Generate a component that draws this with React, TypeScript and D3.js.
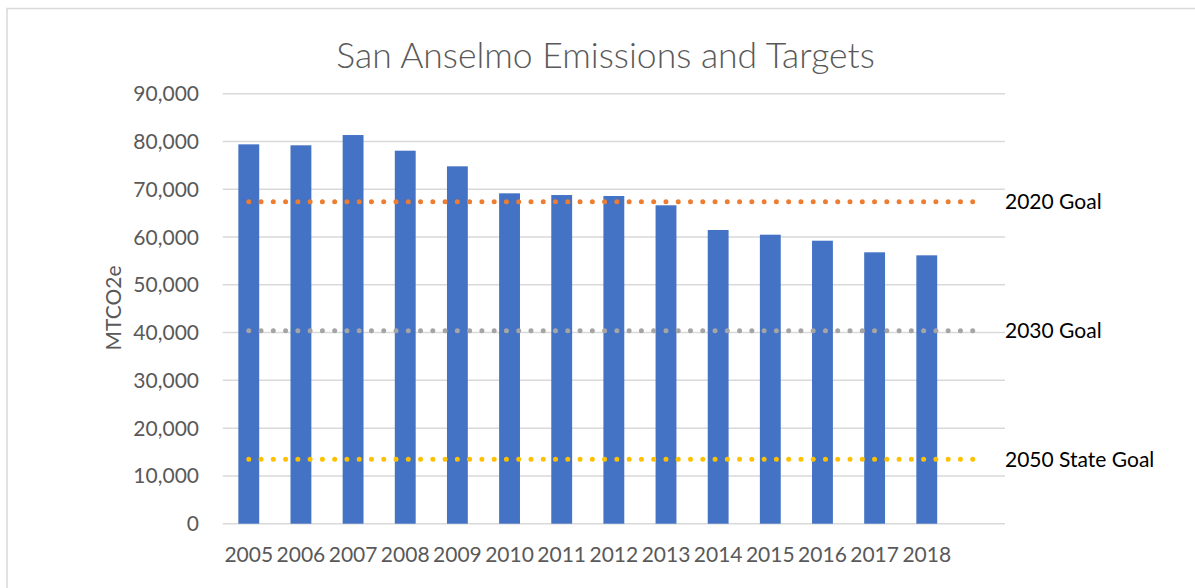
import React from "react";
import * as d3 from "d3";

const categories = ["2005","2006","2007","2008","2009","2010","2011","2012","2013","2014","2015","2016","2017","2018",""];
const emissions = [79400, 79200, 81350, 78070, 74800, 69150, 68790, 68590, 66640, 61470, 60490, 59230, 56800, 56170];
const goalLabels = ["2020 Goal", "2030 Goal", "2050 State Goal"];
const goalValues = [67390, 40400, 13480];
const goalColors = ["#ED7D31", "#A5A5A5", "#FFC000"];
const yTicks = [0, 10000, 20000, 30000, 40000, 50000, 60000, 70000, 80000, 90000];
const title = "San Anselmo Emissions and Targets";
const yTitle = "MTCO2e";

const W = 1195, H = 588;
const left = 222.7, right = 1005, top = 93.7, bottom = 523.7;
const FONT = "Lato, 'Open Sans', sans-serif";

export default function App() {
  const x = d3.scaleBand<string>().domain(categories).range([left, right]).paddingInner(0.6).paddingOuter(0.3);
  const y = d3.scaleLinear().domain([0, 90000]).range([bottom, top]);
  const center = (c: string) => (x(c) as number) + x.bandwidth() / 2;
  const fmt = d3.format(",");
  const x1 = center(categories[0]);
  const x2 = center(categories[categories.length - 1]);
  return (
    <svg width={W} height={H} style={{ position: "absolute", left: 0, top: 0, background: "#fff" }} fontFamily={FONT}>
      <rect x={0} y={0} width={W} height={H} fill="#fff" />
      <rect x={7} y={8.5} width={W + 20} height={H + 20} fill="none" stroke="#d9d9d9" strokeWidth={1.5} />
      <text x={605.5} y={68} textAnchor="middle" fontSize={35.5} fontWeight={300} fill="#595959">{title}</text>
      {yTicks.map((t) => (
        <g key={t}>
          <line x1={left} x2={right} y1={y(t)} y2={y(t)} stroke="#d9d9d9" strokeWidth={1.5} />
          <text x={199} y={y(t)} dy="0.36em" textAnchor="end" fontSize={21} fill="#595959">{fmt(t)}</text>
        </g>
      ))}
      <text transform={`translate(120.5,308) rotate(-90)`} textAnchor="middle" fontSize={21} fill="#595959">{yTitle}</text>
      {emissions.map((v, i) => (
        <rect key={categories[i]} x={x(categories[i])} y={y(v)} width={x.bandwidth()} height={y(0) - y(v)} fill="#4472C4" />
      ))}
      {categories.map((c) => c ? (
        <text key={c} x={center(c)} y={562} textAnchor="middle" fontSize={21} fill="#595959">{c}</text>
      ) : null)}
      {goalValues.map((g, i) => (
        <g key={goalLabels[i]}>
          <line x1={x1} x2={x2} y1={y(g)} y2={y(g)} stroke={goalColors[i]} strokeWidth={5} strokeLinecap="round" strokeDasharray={`0 ${12.27}`} />
          <text x={1005} y={y(g)} dy="0.36em" fontSize={21} fill="#000">{goalLabels[i]}</text>
        </g>
      ))}
    </svg>
  );
}
